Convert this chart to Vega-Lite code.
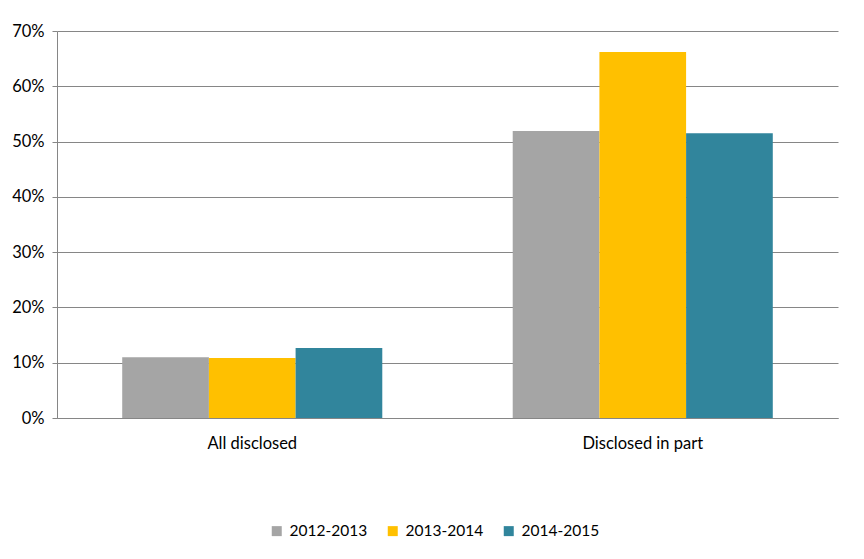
{
  "$schema": "https://vega.github.io/schema/vega-lite/v6.json",
  "width": 781,
  "height": 387,
  "autosize": {"type": "none"},
  "padding": {"left": 57, "top": 31, "right": 26, "bottom": 141},
  "background": "white",
  "config": {
    "font": "Lato",
    "view": {"stroke": null},
    "axis": {"labelFont": "Lato", "labelFontSize": 16.5, "labelColor": "#000000", "domainColor": "#868686", "tickColor": "#868686", "gridColor": "#868686"}
  },
  "data": {
    "values": [
      {"category": "All disclosed", "period": "2012-2013", "value": 0.110},
      {"category": "All disclosed", "period": "2013-2014", "value": 0.1085},
      {"category": "All disclosed", "period": "2014-2015", "value": 0.1266},
      {"category": "Disclosed in part", "period": "2012-2013", "value": 0.519},
      {"category": "Disclosed in part", "period": "2013-2014", "value": 0.662},
      {"category": "Disclosed in part", "period": "2014-2015", "value": 0.515}
    ]
  },
  "mark": {"type": "bar"},
  "encoding": {
    "x": {
      "field": "category", "type": "nominal",
      "scale": {"paddingInner": 0.334, "paddingOuter": 0.167},
      "axis": {"title": null, "labelAngle": 0, "ticks": false, "labelPadding": 17, "domainWidth": 1}
    },
    "xOffset": {"field": "period", "type": "nominal", "scale": {"paddingInner": 0, "paddingOuter": 0}},
    "y": {
      "field": "value", "type": "quantitative",
      "scale": {"domain": [0, 0.7], "nice": false},
      "axis": {"title": null, "format": ".0%", "values": [0, 0.1, 0.2, 0.3, 0.4, 0.5, 0.6, 0.7], "tickSize": 5, "labelPadding": 8, "grid": true, "domain": true}
    },
    "color": {
      "field": "period", "type": "nominal",
      "scale": {"domain": ["2012-2013", "2013-2014", "2014-2015"], "range": ["#A5A5A5", "#FFC000", "#31859C"]},
      "legend": {
        "title": null, "orient": "none", "legendX": 212, "legendY": 492, "direction": "horizontal",
        "symbolType": "square", "symbolSize": 100, "symbolStrokeWidth": 0,
        "labelFontSize": 15.5, "labelFont": "Lato", "labelColor": "#000000", "columnPadding": 17, "labelOffset": 5
      }
    }
  }
}
